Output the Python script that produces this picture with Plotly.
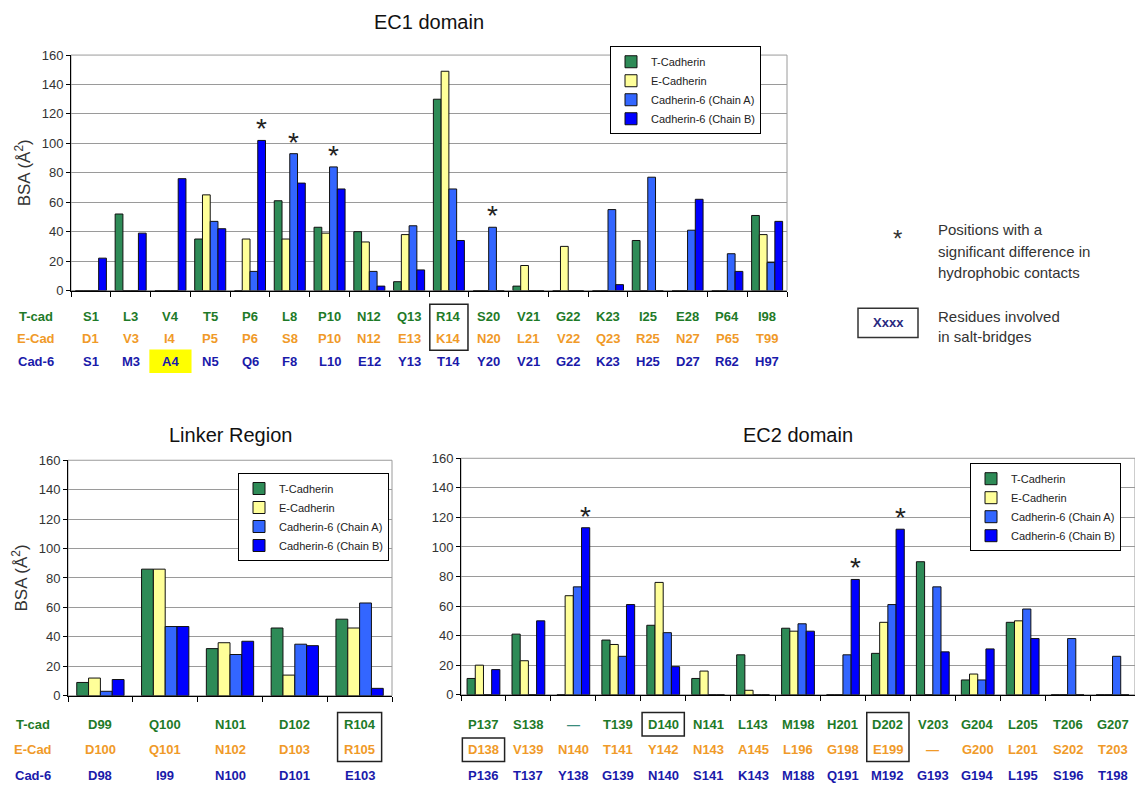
import plotly.graph_objects as go

W, H = 1135, 792
FONT = "Arial, Liberation Sans, sans-serif"

SERIES = ["T-Cadherin", "E-Cadherin", "Cadherin-6 (Chain A)", "Cadherin-6 (Chain B)"]
BAR_COLORS = ["#2E8B57", "#FFFF99", "#3366FF", "#0000FF"]
ROW_NAMES = ["T-cad", "E-Cad", "Cad-6"]
ROW_COLORS = ["#1E7A28", "#F09A28", "#1A1AAA"]

# ---- EC1 domain ----
ec1_tcad = ["S1", "L3", "V4", "T5", "P6", "L8", "P10", "N12", "Q13", "R14", "S20",
            "V21", "G22", "K23", "I25", "E28", "P64", "I98"]
ec1_ecad = ["D1", "V3", "I4", "P5", "P6", "S8", "P10", "N12", "E13", "K14", "N20",
            "L21", "V22", "Q23", "R25", "N27", "P65", "T99"]
ec1_cad6 = ["S1", "M3", "A4", "N5", "Q6", "F8", "L10", "E12", "Y13", "T14", "Y20",
            "V21", "G22", "K23", "H25", "D27", "R62", "H97"]
ec1_t = [0, 52, 0, 35, 0, 61, 43, 40, 6, 130, 0, 3, 0, 0, 34, 0, 0, 51]
ec1_e = [0, 0, 0, 65, 35, 35, 39, 33, 38, 149, 0, 17, 30, 0, 0, 0, 0, 38]
ec1_a = [0, 0, 0, 47, 13, 93, 84, 13, 44, 69, 43, 0, 0, 55, 77, 41, 25, 19]
ec1_b = [22, 39, 76, 42, 102, 73, 69, 3, 14, 34, 0, 0, 0, 4, 0, 62, 13, 47]
ec1_stars = [(4, 3), (5, 2), (6, 2), (10, 2)]          # (position, series)
ec1_saltbridge = [(9, 0, 1)]                           # (position, first row, last row)
ec1_highlight = [(2, 2)]                               # (position, row)

# ---- Linker region ----
lk_tcad = ["D99", "Q100", "N101", "D102", "R104"]
lk_ecad = ["D100", "Q101", "N102", "D103", "R105"]
lk_cad6 = ["D98", "I99", "N100", "D101", "E103"]
lk_t = [9, 86, 32, 46, 52]
lk_e = [12, 86, 36, 14, 46]
lk_a = [3, 47, 28, 35, 63]
lk_b = [11, 47, 37, 34, 5]
lk_saltbridge = [(4, 0, 1)]

# ---- EC2 domain ----
ec2_tcad = ["P137", "S138", "\u2014", "T139", "D140", "N141", "L143", "M198", "H201",
            "D202", "V203", "G204", "L205", "T206", "G207"]
ec2_ecad = ["D138", "V139", "N140", "T141", "Y142", "N143", "A145", "L196", "G198",
            "E199", "\u2014", "G200", "L201", "S202", "T203"]
ec2_cad6 = ["P136", "T137", "Y138", "G139", "N140", "S141", "K143", "M188", "Q191",
            "M192", "G193", "G194", "L195", "S196", "T198"]
ec2_t = [11, 41, 0, 37, 47, 11, 27, 45, 0, 28, 90, 10, 49, 0, 0]
ec2_e = [20, 23, 67, 34, 76, 16, 3, 43, 0, 49, 0, 14, 50, 0, 0]
ec2_a = [0, 0, 73, 26, 42, 0, 0, 48, 27, 61, 73, 10, 58, 38, 26]
ec2_b = [17, 50, 113, 61, 19, 0, 0, 43, 78, 112, 29, 31, 38, 0, 0]
ec2_stars = [(2, 3), (8, 3), (9, 3)]
ec2_saltbridge = [(4, 0, 0), (0, 1, 1), (9, 0, 1)]


def py(p):
    """pixel row -> paper y"""
    return 1 - p / H


def px(p):
    return p / W


panels = [
    dict(ax="", title="EC1 domain", rows=(ec1_tcad, ec1_ecad, ec1_cad6),
         vals=(ec1_t, ec1_e, ec1_a, ec1_b), stars=ec1_stars, boxes=ec1_saltbridge,
         marks=ec1_highlight, xdom=(71, 787), ydom=(49, 289), group=0.78,
         row_y=(315, 338, 361), title_y=15, box_hw=0.48, ytitle=True,
         legend=dict(x=610, y=40), legend_name="legend", headers_x=36),
    dict(ax="2", title="Linker Region", rows=(lk_tcad, lk_ecad, lk_cad6),
         vals=(lk_t, lk_e, lk_a, lk_b), stars=[], boxes=lk_saltbridge, marks=[],
         xdom=(68, 392), ydom=(462, 702), group=0.73,
         row_y=(731, 757, 783), title_y=436, box_hw=0.34, ytitle=True,
         legend=dict(x=238, y=475), legend_name="legend2", headers_x=33),
    dict(ax="3", title="EC2 domain", rows=(ec2_tcad, ec2_ecad, ec2_cad6),
         vals=(ec2_t, ec2_e, ec2_a, ec2_b), stars=ec2_stars, boxes=ec2_saltbridge,
         marks=[], xdom=(461, 1135), ydom=(460, 701), group=0.73,
         row_y=(731, 757, 783), title_y=436, box_hw=0.47, ytitle=False,
         legend=dict(x=970, y=465), legend_name="legend3", headers_x=None),
]

fig = go.Figure()
annotations = []
shapes = []
layout = {}

for p in panels:
    ax = p["ax"]
    n = len(p["rows"][0])
    gw = p["group"]
    bw = gw / 4
    xname, yname = "x" + ax, "y" + ax

    for k, (name, vals) in enumerate(zip(SERIES, p["vals"])):
        fig.add_trace(go.Bar(
            x=list(range(n)), y=vals, name=name,
            width=bw, offset=-gw / 2 + k * bw,
            marker=dict(color=BAR_COLORS[k], line=dict(color="#111111", width=1)),
            xaxis=xname, yaxis=yname, legend=p["legend_name"],
        ))

    yaxis = dict(
        domain=[py(p["ydom"][1]), py(p["ydom"][0])], anchor=xname,
        range=[0, 160], dtick=20, showgrid=True, gridcolor="#9A9A9A", gridwidth=1,
        zeroline=False, showline=True, linecolor="#000000", linewidth=1,
        ticks="outside", ticklen=4, tickcolor="#000000",
        tickfont=dict(family=FONT, size=13, color="#333333"),
        fixedrange=True,
    )
    if p["ytitle"]:
        yaxis["title"] = dict(text="BSA (\u00c5<sup>2</sup>)",
                              font=dict(family=FONT, size=17, color="#333333"),
                              standoff=6)
    layout["yaxis" + ax] = yaxis
    layout["xaxis" + ax] = dict(
        domain=[px(p["xdom"][0]), px(p["xdom"][1])], anchor=yname,
        range=[-0.5, n - 0.5], showgrid=False, zeroline=False,
        showline=True, linecolor="#000000", linewidth=1,
        tickmode="array", tickvals=[i - 0.5 for i in range(n + 1)],
        ticks="outside", ticklen=5, tickcolor="#000000", showticklabels=False,
        fixedrange=True,
    )
    layout[p["legend_name"]] = dict(
        x=px(p["legend"]["x"]), y=py(p["legend"]["y"]), xanchor="left", yanchor="top",
        bgcolor="#FFFFFF", bordercolor="#000000", borderwidth=1,
        font=dict(family=FONT, size=11, color="#222222"),
        itemwidth=30, tracegroupgap=0, traceorder="normal",
    )

    # plot-area frame
    shapes.append(dict(type="rect", xref=xname + " domain", yref=yname + " domain",
                       x0=0, x1=1, y0=0, y1=1, line=dict(color="#9A9A9A", width=1),
                       layer="below"))

    # panel title
    annotations.append(dict(
        text=p["title"], xref="paper", yref="paper",
        x=px((p["xdom"][0] + p["xdom"][1]) / 2), y=py(p["title_y"]),
        xanchor="center", yanchor="middle", showarrow=False,
        font=dict(family=FONT, size=20, color="#111111")))

    # residue labels under the bars
    for r, labels in enumerate(p["rows"]):
        for i, lab in enumerate(labels):
            color = ROW_COLORS[r]
            if lab == "\u2014" and r == 0:
                color = "#3A8C7C"
            annotations.append(dict(
                text="<b>%s</b>" % lab, xref=xname, yref="paper", x=i,
                y=py(p["row_y"][r]), xanchor="center", yanchor="middle",
                showarrow=False, font=dict(family=FONT, size=13, color=color)))
        if p["headers_x"] is not None:
            annotations.append(dict(
                text="<b>%s</b>" % ROW_NAMES[r], xref="paper", yref="paper",
                x=px(p["headers_x"]), y=py(p["row_y"][r]), xanchor="center",
                yanchor="middle", showarrow=False,
                font=dict(family=FONT, size=13, color=ROW_COLORS[r])))

    # highlighted residue
    for i, r in p["marks"]:
        yc = p["row_y"][r]
        shapes.append(dict(type="rect", xref=xname, yref="paper",
                           x0=i - 0.53, x1=i + 0.53, y0=py(yc + 12), y1=py(yc - 12),
                           fillcolor="#FFFF00", line=dict(width=0), layer="below"))

    # salt-bridge boxes
    for i, r0, r1 in p["boxes"]:
        shapes.append(dict(type="rect", xref=xname, yref="paper",
                           x0=i - p["box_hw"], x1=i + p["box_hw"],
                           y0=py(p["row_y"][r1] + 12), y1=py(p["row_y"][r0] - 12),
                           line=dict(color="#222222", width=1.5)))

    # significance asterisks above the bars
    for i, k in p["stars"]:
        annotations.append(dict(
            text="*", xref=xname, yref=yname, x=i - gw / 2 + (k + 0.5) * bw,
            y=p["vals"][k][i], xanchor="center", yanchor="bottom", yshift=-6,
            showarrow=False, font=dict(family=FONT, size=28, color="#222222")))

# key on the right
note = dict(xref="paper", yref="paper", showarrow=False, xanchor="left",
            yanchor="middle", font=dict(family=FONT, size=15, color="#333333"))
annotations.append(dict(text="*", x=px(897), y=py(236), xanchor="center",
                        yanchor="middle", xref="paper", yref="paper", showarrow=False,
                        font=dict(family=FONT, size=24, color="#333333")))
for txt, yy in [("Positions with a", 227), ("significant difference in", 249),
                ("hydrophobic contacts", 271), ("Residues involved", 315),
                ("in salt-bridges", 336)]:
    annotations.append(dict(note, text=txt, x=px(936), y=py(yy)))
shapes.append(dict(type="rect", xref="paper", yref="paper", x0=px(858), x1=px(918),
                   y0=py(337), y1=py(307), line=dict(color="#333333", width=1.5)))
annotations.append(dict(text="<b>Xxxx</b>", xref="paper", yref="paper", x=px(888),
                        y=py(322), xanchor="center", yanchor="middle", showarrow=False,
                        font=dict(family=FONT, size=13, color="#2A2A80")))

fig.update_layout(
    width=W, height=H, margin=dict(l=0, r=0, t=0, b=0),
    paper_bgcolor="#FFFFFF", plot_bgcolor="#FFFFFF",
    barmode="overlay", showlegend=True,
    annotations=annotations, shapes=shapes, font=dict(family=FONT),
    **layout,
)

fig.write_html("out.html", config={"displayModeBar": False})
